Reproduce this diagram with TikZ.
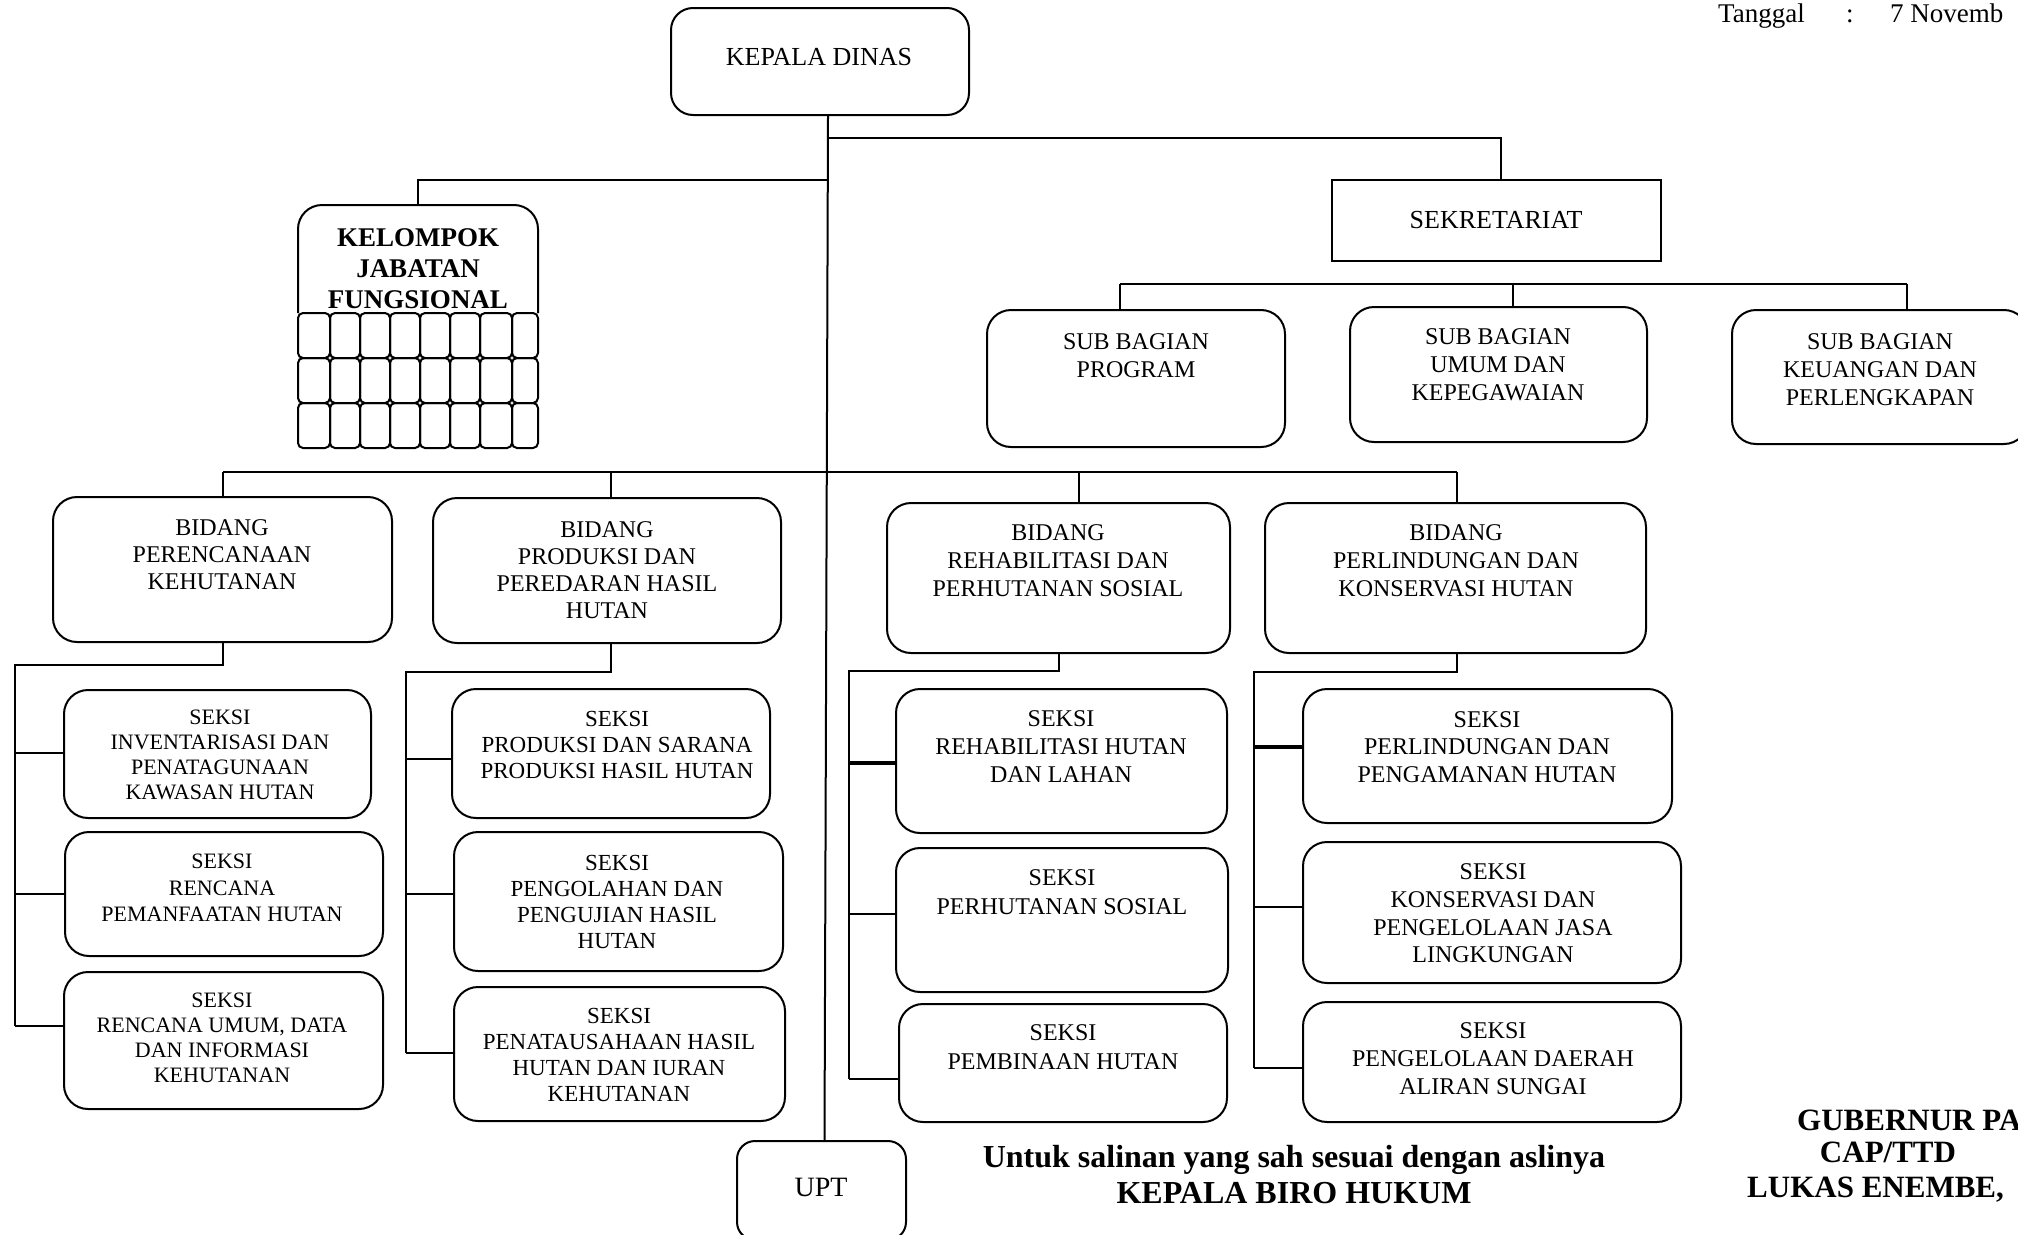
\documentclass[tikz,border=0pt]{standalone}
\usepackage{fontspec}
\setmainfont{Liberation Serif}
\newcommand{\orgfs}[2]{\fontsize{#1}{#2}\selectfont}
\begin{document}
\begin{tikzpicture}[x=1pt,y=-1pt,
  box/.style={draw, line width=2pt, rounded corners=24pt, inner sep=0pt},
  sqbox/.style={draw, line width=2pt, inner sep=0pt},
  lbl/.style={align=center, inner sep=0pt},
  con/.style={line width=2pt},
  thk/.style={line width=4pt},
  cell/.style={line width=2pt, rounded corners=5pt}]
\useasboundingbox (0,0) rectangle (2018,1234);

% ---------- boxes ----------
\def\mk#1#2#3#4#5#6{\node[#6, minimum width={#4-#2}, minimum height={#5-#3}] (#1) at ({(#2+#4)/2},{(#3+#5)/2}) {};}
\mk{kd}{671}{8}{969}{115}{box, rounded corners=22pt}
\mk{sek}{1332}{180}{1661}{261}{sqbox}
\mk{kjf}{298}{205}{538}{450}{inner sep=0pt}
\mk{sb1}{987}{310}{1285}{447}{box}
\mk{sb2}{1350}{307}{1647}{442}{box}
\mk{sb3}{1732}{310}{2028}{444}{box}
\mk{b1}{53}{497}{392}{642}{box}
\mk{b2}{433}{498}{781}{643}{box}
\mk{b3}{887}{503}{1230}{653}{box}
\mk{b4}{1265}{503}{1646}{653}{box}
\mk{s11}{64}{690}{371}{818}{box}
\mk{s12}{65}{832}{383}{956}{box}
\mk{s13}{64}{972}{383}{1109}{box}
\mk{s21}{452}{689}{770}{818}{box}
\mk{s22}{454}{832}{783}{971}{box}
\mk{s23}{454}{987}{785}{1121}{box}
\mk{s31}{896}{689}{1227}{833}{box}
\mk{s32}{896}{848}{1228}{992}{box}
\mk{s33}{899}{1004}{1227}{1122}{box}
\mk{s41}{1303}{689}{1672}{823}{box}
\mk{s42}{1303}{842}{1681}{983}{box}
\mk{s43}{1303}{1002}{1681}{1122}{box}
\mk{upt}{737}{1141}{906}{1240}{box, rounded corners=18pt}

% KELOMPOK JABATAN FUNGSIONAL outline and grid
\draw[line width=2pt, rounded corners=24pt] (298,313) -- (298,205) -- (538,205) -- (538,313);
\foreach \xa/\xb in {298/330,330/360,360/390,390/420,420/450,450/480,480/512,512/538}
  \foreach \ya/\yb in {313/358,358/403,403/448}
    \draw[cell] (\xa,\ya) rectangle (\xb,\yb);

% ---------- labels ----------
\node[lbl, font=\orgfs{26}{30}] (tkd) at (819,57) {KEPALA DINAS};
\node[lbl, font=\orgfs{26}{30}] (tsek) at (1496,220) {SEKRETARIAT};
\node[lbl, font=\bfseries\orgfs{27}{31}] (tkjf) at (418,269) {KELOMPOK\\JABATAN\\FUNGSIONAL};
\node[lbl, font=\orgfs{24}{28}] (tsb1) at (1136,356) {SUB BAGIAN\\PROGRAM};
\node[lbl, font=\orgfs{24}{28}] (tsb2) at (1498,365) {SUB BAGIAN\\UMUM DAN\\KEPEGAWAIAN};
\node[lbl, font=\orgfs{24}{28}] (tsb3) at (1880,370) {SUB BAGIAN\\KEUANGAN DAN\\PERLENGKAPAN};
\node[lbl, font=\orgfs{24}{27}] (tb1) at (222,555) {BIDANG\\PERENCANAAN\\KEHUTANAN};
\node[lbl, font=\orgfs{24}{27}] (tb2) at (607,570) {BIDANG\\PRODUKSI DAN\\PEREDARAN HASIL\\HUTAN};
\node[lbl, font=\orgfs{24}{28}] (tb3) at (1058,561) {BIDANG\\REHABILITASI DAN\\PERHUTANAN SOSIAL};
\node[lbl, font=\orgfs{24}{28}] (tb4) at (1456,561) {BIDANG\\PERLINDUNGAN DAN\\KONSERVASI HUTAN};
\node[lbl, font=\orgfs{22}{25}] (ts11) at (220,755) {SEKSI\\INVENTARISASI DAN\\PENATAGUNAAN\\KAWASAN HUTAN};
\node[lbl, font=\orgfs{22}{26.5}] (ts12) at (222,888) {SEKSI\\RENCANA\\PEMANFAATAN HUTAN};
\node[lbl, font=\orgfs{22}{25}] (ts13) at (222,1038) {SEKSI\\RENCANA UMUM, DATA\\DAN INFORMASI\\KEHUTANAN};
\node[lbl, font=\orgfs{23}{26}] (ts21) at (617,745) {SEKSI\\PRODUKSI DAN SARANA\\PRODUKSI HASIL HUTAN};
\node[lbl, font=\orgfs{23}{26.3}] (ts22) at (617,902) {SEKSI\\PENGOLAHAN DAN\\PENGUJIAN HASIL\\HUTAN};
\node[lbl, font=\orgfs{23}{25.7}] (ts23) at (619,1055) {SEKSI\\PENATAUSAHAAN HASIL\\HUTAN DAN IURAN\\KEHUTANAN};
\node[lbl, font=\orgfs{24}{28}] (ts31) at (1061,747) {SEKSI\\REHABILITASI HUTAN\\DAN LAHAN};
\node[lbl, font=\orgfs{24}{29}] (ts32) at (1062,892.5) {SEKSI\\PERHUTANAN SOSIAL};
\node[lbl, font=\orgfs{24}{29}] (ts33) at (1063,1047.5) {SEKSI\\PEMBINAAN HUTAN};
\node[lbl, font=\orgfs{24}{27.5}] (ts41) at (1487,747) {SEKSI\\PERLINDUNGAN DAN\\PENGAMANAN HUTAN};
\node[lbl, font=\orgfs{24}{27.7}] (ts42) at (1493,913.5) {SEKSI\\KONSERVASI DAN\\PENGELOLAAN JASA\\LINGKUNGAN};
\node[lbl, font=\orgfs{24}{28}] (ts43) at (1493,1058.7) {SEKSI\\PENGELOLAAN DAERAH\\ALIRAN SUNGAI};
\node[lbl, font=\orgfs{28}{32}] (tupt) at (821,1187) {UPT};

% ---------- connectors ----------
\coordinate (sp1) at ([xshift=8pt]kd.south);
\coordinate (sp2) at ([xshift=3pt]upt.north);
\draw[con] (sp1) -- (sp2);
\coordinate (j1) at (828,138);
\coordinate (j2) at (828,180);
\draw[con] (j1) -| ([xshift=4.5pt]sek.north);
\draw[con] (j2) -| (kjf.north);

\coordinate (sbl) at (1120,284);
\coordinate (sbm) at (1513,284);
\coordinate (sbr) at (1907,284);
\draw[con] (sbl) -- (sbr);
\draw[con] (sbl) -- (sbl |- sb1.north);
\draw[con] (sbm) -- (sbm |- sb2.north);
\draw[con] (sbr) -- (sbr |- sb3.north);

\coordinate (bl) at (223,472);
\coordinate (bx2) at (611,472);
\coordinate (bx3) at (1079,472);
\coordinate (br) at (1457,472);
\draw[con] (bl) -- (br);
\draw[con] (bl) -- (bl |- b1.north);
\draw[con] (bx2) -- (bx2 |- b2.north);
\draw[con] (bx3) -- (bx3 |- b3.north);
\draw[con] (br) -- (br |- b4.north);

% column 1
\draw[con] (bl |- b1.south) |- (15,665) -- (15,1026);
\foreach \yy/\nn in {753/s11,894/s12,1026/s13}{
  \coordinate (tt) at (15,\yy);
  \draw[con] (tt) -- (tt -| \nn.west);}
% column 2
\draw[con] (bx2 |- b2.south) |- (406,672) -- (406,1053);
\foreach \yy/\nn in {759/s21,894/s22,1053/s23}{
  \coordinate (tt) at (406,\yy);
  \draw[con] (tt) -- (tt -| \nn.west);}
% column 3
\draw[con] (b3.south) |- (849,671) -- (849,1079);
\coordinate (t31) at (849,763);
\draw[thk] (t31) -- (t31 -| s31.west);
\foreach \yy/\nn in {914/s32,1079/s33}{
  \coordinate (tt) at (849,\yy);
  \draw[con] (tt) -- (tt -| \nn.west);}
% column 4
\draw[con] (br |- b4.south) |- (1254,672) -- (1254,1068);
\coordinate (t41) at (1254,747);
\draw[thk] (t41) -- (t41 -| s41.west);
\foreach \yy/\nn in {907/s42,1068/s43}{
  \coordinate (tt) at (1254,\yy);
  \draw[con] (tt) -- (tt -| \nn.west);}

% ---------- free texts ----------
\node[inner sep=0pt, anchor=base west, font=\orgfs{27}{31}] (tg1) at (1718,23) {Tanggal};
\node[inner sep=0pt, anchor=base west, font=\orgfs{27}{31}] (tg2) at (1846,23) {:};
\node[inner sep=0pt, anchor=base west, font=\orgfs{27}{31}] (tg3) at (1890,23) {7 Novemb};

\node[inner sep=0pt, anchor=base, font=\bfseries\orgfs{32}{35}] (u1) at (1294,1167) {Untuk salinan yang sah sesuai dengan aslinya};
\node[inner sep=0pt, anchor=base, font=\bfseries\orgfs{32}{35}] (u2) at (1294,1203) {KEPALA BIRO HUKUM};

\node[inner sep=0pt, anchor=base west, font=\bfseries\orgfs{31}{35}] (g1) at (1797,1130) {GUBERNUR PA};
\node[inner sep=0pt, anchor=base, font=\bfseries\orgfs{31}{35}] (g2) at (1888,1162) {CAP/TTD};
\node[inner sep=0pt, anchor=base west, font=\bfseries\orgfs{31}{35}] (g3) at (1747,1197) {LUKAS ENEMBE,};
\end{tikzpicture}
\end{document}
